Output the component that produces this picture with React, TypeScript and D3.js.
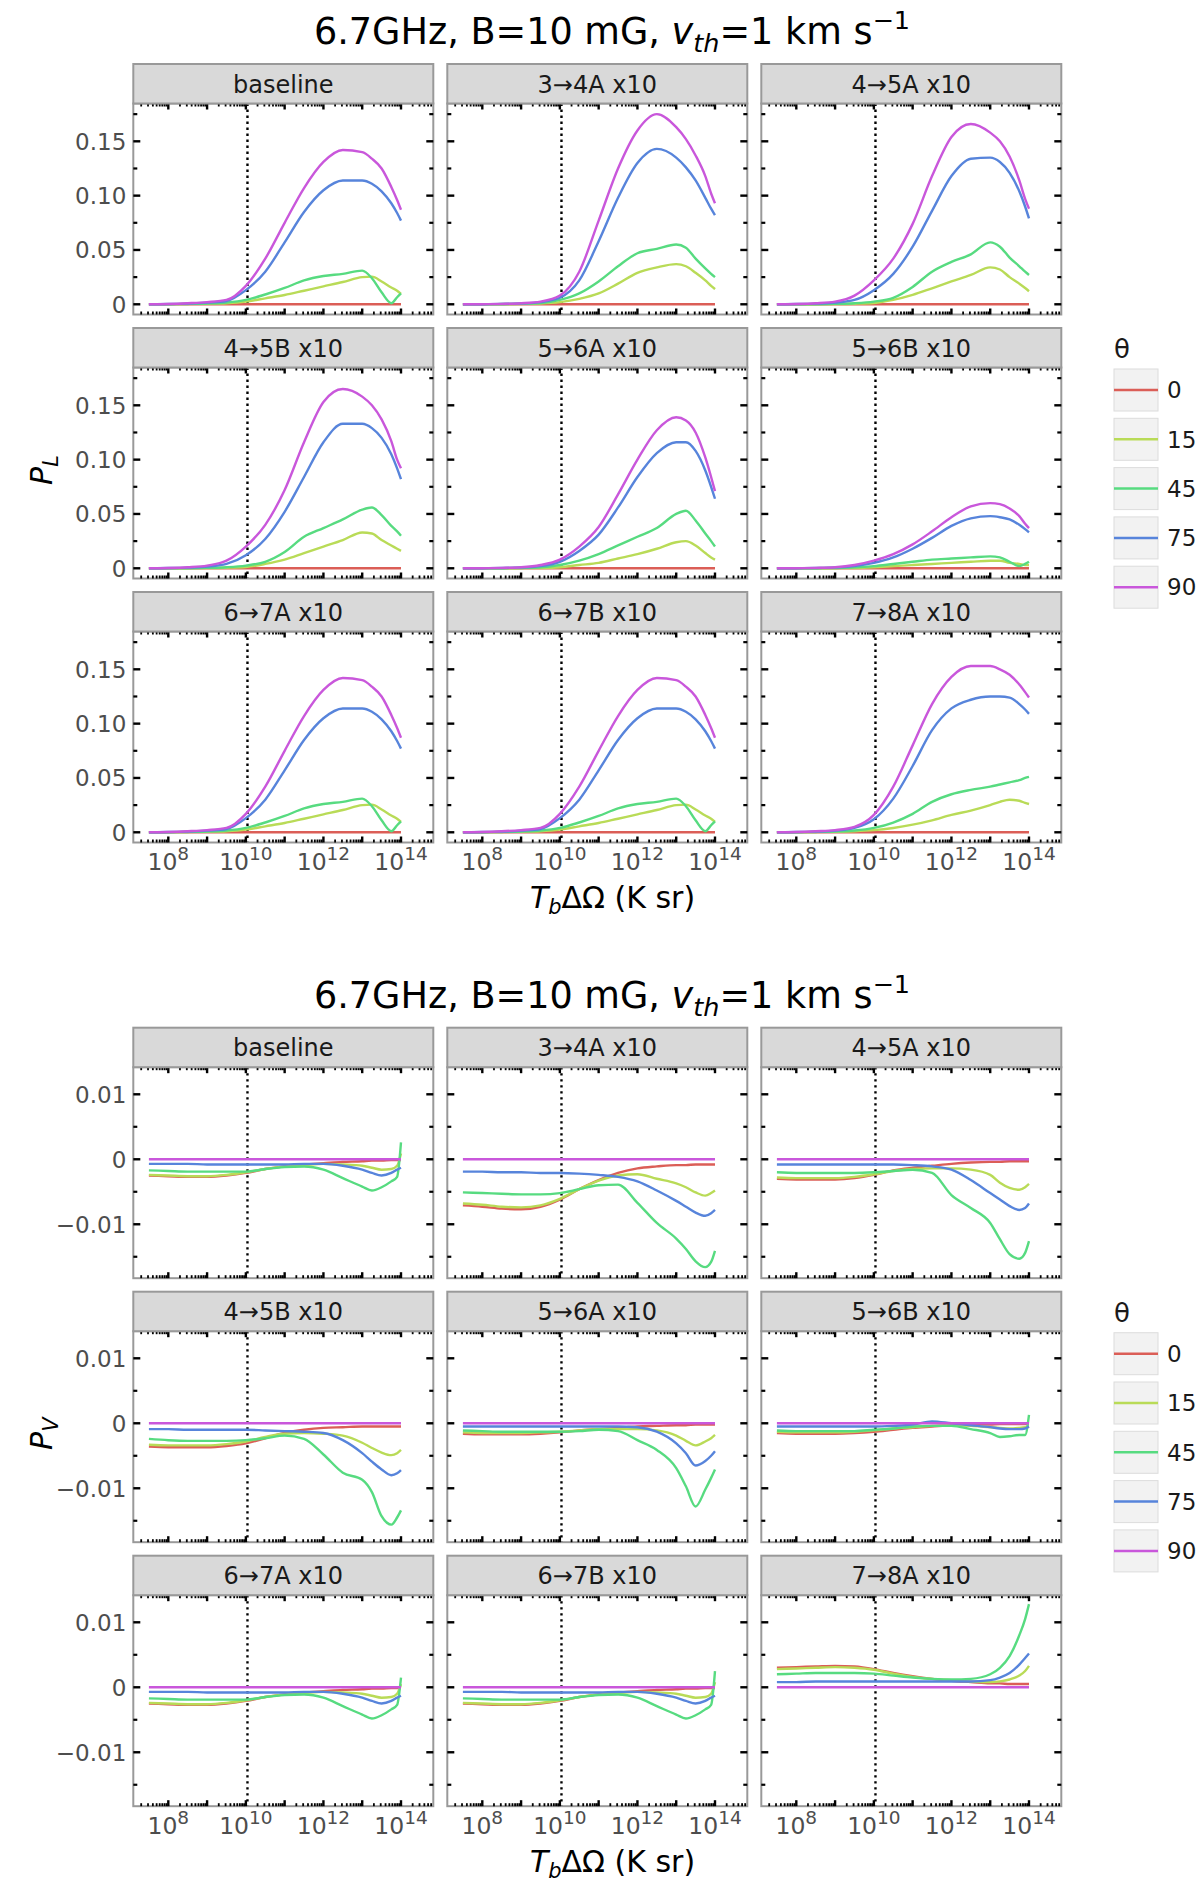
import React, { useRef, useEffect } from 'react';
import * as d3 from 'd3';

// log10(Tb dOmega) sample points shared by every curve
const logT = [7.5, 8, 8.5, 9, 9.5, 10, 10.5, 11, 11.5, 12, 12.5, 13, 13.25, 13.5, 13.75, 13.9, 14];

const thetaLabels = ['0', '15', '45', '75', '90'];
const thetaColors = ['#db5e57', '#b9db57', '#57db80', '#5784db', '#c957db'];
const panelLabels = [
  'baseline', '3→4A x10', '4→5A x10',
  '4→5B x10', '5→6A x10', '5→6B x10',
  '6→7A x10', '6→7B x10', '7→8A x10',
];
const xTickPowers = [8, 10, 12, 14];
const plTicks = [0, 0.05, 0.1, 0.15];
const plTickText = ['0', '0.05', '0.10', '0.15'];
const plMinorTicks = [0.025, 0.075, 0.125, 0.175];
const pvTicks = [-0.01, 0, 0.01];
const pvTickText = ['\u22120.01', '0', '0.01'];
const pvMinorTicks = [-0.015, -0.005, 0.005];

// ---- P_L, rows are theta = 0, 15, 45, 75, 90 ----
const plBaseline = [
  [0, 0, 0, 0, 0, 0, 0, 0, 0, 0, 0, 0, 0, 0, 0, 0, 0],
  [0, 0.0001, 0.0002, 0.0005, 0.001, 0.0025, 0.0055, 0.0085, 0.0125, 0.0165, 0.0205, 0.025, 0.0255, 0.021, 0.0155, 0.0125, 0.0095],
  [0, 0.0001, 0.0003, 0.0007, 0.0016, 0.004, 0.009, 0.015, 0.022, 0.026, 0.028, 0.031, 0.024, 0.011, 0.001, 0.0065, 0.010],
  [0, 0.0002, 0.0006, 0.0015, 0.003, 0.013, 0.030, 0.057, 0.085, 0.105, 0.114, 0.114, 0.111, 0.104, 0.093, 0.084, 0.077],
  [0, 0.0003, 0.001, 0.002, 0.004, 0.017, 0.042, 0.075, 0.107, 0.131, 0.142, 0.140, 0.134, 0.125, 0.108, 0.096, 0.087],
];
const pl34A = [
  [0, 0, 0, 0, 0, 0, 0, 0, 0, 0, 0, 0, 0, 0, 0, 0, 0],
  [0, 0, 0.0001, 0.0003, 0.0007, 0.002, 0.005, 0.010, 0.019, 0.029, 0.034, 0.037, 0.035, 0.029, 0.022, 0.017, 0.014],
  [0, 0, 0.0002, 0.0005, 0.0012, 0.004, 0.010, 0.021, 0.035, 0.047, 0.051, 0.055, 0.052, 0.042, 0.033, 0.028, 0.025],
  [0, 0.0001, 0.0003, 0.0008, 0.002, 0.006, 0.022, 0.058, 0.098, 0.130, 0.143, 0.135, 0.126, 0.114, 0.098, 0.088, 0.082],
  [0, 0.0001, 0.0004, 0.001, 0.0025, 0.008, 0.030, 0.077, 0.125, 0.160, 0.175, 0.163, 0.152, 0.137, 0.118, 0.102, 0.093],
];
const pl45A = [
  [0, 0, 0, 0, 0, 0, 0, 0, 0, 0, 0, 0, 0, 0, 0, 0, 0],
  [0, 0, 0.0001, 0.0002, 0.0005, 0.0012, 0.004, 0.0086, 0.0147, 0.021, 0.027, 0.034, 0.032, 0.025, 0.019, 0.015, 0.012],
  [0, 0, 0.0001, 0.0004, 0.001, 0.0025, 0.006, 0.016, 0.030, 0.039, 0.046, 0.057, 0.053, 0.043, 0.035, 0.030, 0.027],
  [0, 0.0002, 0.0006, 0.0015, 0.004, 0.013, 0.028, 0.053, 0.086, 0.118, 0.134, 0.135, 0.131, 0.121, 0.104, 0.090, 0.079],
  [0, 0.0003, 0.001, 0.0025, 0.008, 0.022, 0.042, 0.074, 0.118, 0.154, 0.166, 0.158, 0.150, 0.136, 0.114, 0.097, 0.088],
];
const pl45B = [
  [0, 0, 0, 0, 0, 0, 0, 0, 0, 0, 0, 0, 0, 0, 0, 0, 0],
  [0, 0, 0.0001, 0.0002, 0.0005, 0.0012, 0.004, 0.008, 0.014, 0.020, 0.026, 0.033, 0.032, 0.026, 0.021, 0.018, 0.016],
  [0, 0, 0.0001, 0.0004, 0.001, 0.0025, 0.006, 0.015, 0.029, 0.037, 0.045, 0.054, 0.056, 0.049, 0.039, 0.034, 0.030],
  [0, 0.0002, 0.0006, 0.0015, 0.004, 0.012, 0.027, 0.052, 0.084, 0.116, 0.133, 0.133, 0.129, 0.120, 0.105, 0.092, 0.082],
  [0, 0.0003, 0.001, 0.0025, 0.007, 0.020, 0.040, 0.072, 0.116, 0.153, 0.165, 0.158, 0.150, 0.137, 0.117, 0.100, 0.092],
];
const pl56A = [
  [0, 0, 0, 0, 0, 0, 0, 0, 0, 0, 0, 0, 0, 0, 0, 0, 0],
  [0, 0, 0, 0.0001, 0.0003, 0.001, 0.003, 0.005, 0.009, 0.013, 0.018, 0.024, 0.025, 0.021, 0.014, 0.010, 0.008],
  [0, 0, 0.0001, 0.0003, 0.0008, 0.003, 0.007, 0.013, 0.021, 0.029, 0.037, 0.050, 0.053, 0.044, 0.032, 0.025, 0.020],
  [0, 0.0001, 0.0003, 0.0008, 0.002, 0.006, 0.016, 0.031, 0.056, 0.084, 0.106, 0.116, 0.116, 0.108, 0.090, 0.075, 0.064],
  [0, 0.0001, 0.0004, 0.001, 0.003, 0.008, 0.020, 0.038, 0.068, 0.100, 0.127, 0.139, 0.136, 0.125, 0.102, 0.084, 0.071],
];
const pl56B = [
  [0, 0, 0, 0, 0, 0, 0, 0, 0, 0, 0, 0, 0, 0, 0, 0, 0],
  [0, 0, 0, 0.0001, 0.0003, 0.001, 0.002, 0.003, 0.004, 0.005, 0.006, 0.007, 0.007, 0.005, 0.004, 0.003, 0.003],
  [0, 0, 0.0001, 0.0003, 0.0008, 0.002, 0.004, 0.006, 0.008, 0.009, 0.010, 0.011, 0.010, 0.006, 0.002, 0.004, 0.006],
  [0, 0.0001, 0.0003, 0.0008, 0.002, 0.005, 0.010, 0.018, 0.028, 0.039, 0.046, 0.048, 0.047, 0.045, 0.040, 0.036, 0.033],
  [0, 0.0001, 0.0004, 0.001, 0.003, 0.007, 0.013, 0.022, 0.034, 0.047, 0.057, 0.060, 0.059, 0.055, 0.048, 0.041, 0.037],
];
const pl67A = [
  [0, 0, 0, 0, 0, 0, 0, 0, 0, 0, 0, 0, 0, 0, 0, 0, 0],
  [0, 0.0001, 0.0002, 0.0005, 0.001, 0.0025, 0.0055, 0.0085, 0.0125, 0.0165, 0.0205, 0.025, 0.0255, 0.021, 0.0155, 0.0125, 0.0095],
  [0, 0.0001, 0.0003, 0.0007, 0.0016, 0.004, 0.009, 0.015, 0.022, 0.026, 0.028, 0.031, 0.024, 0.011, 0.001, 0.0065, 0.010],
  [0, 0.0002, 0.0006, 0.0015, 0.003, 0.013, 0.030, 0.057, 0.085, 0.105, 0.114, 0.114, 0.111, 0.104, 0.093, 0.084, 0.077],
  [0, 0.0003, 0.001, 0.002, 0.004, 0.017, 0.042, 0.075, 0.107, 0.131, 0.142, 0.140, 0.134, 0.125, 0.108, 0.096, 0.087],
];
const pl67B = [
  [0, 0, 0, 0, 0, 0, 0, 0, 0, 0, 0, 0, 0, 0, 0, 0, 0],
  [0, 0.0001, 0.0002, 0.0005, 0.001, 0.0025, 0.0055, 0.0085, 0.0125, 0.0165, 0.0205, 0.025, 0.0255, 0.021, 0.0155, 0.0125, 0.0095],
  [0, 0.0001, 0.0003, 0.0007, 0.0016, 0.004, 0.009, 0.015, 0.022, 0.026, 0.028, 0.031, 0.024, 0.011, 0.001, 0.0065, 0.010],
  [0, 0.0002, 0.0006, 0.0015, 0.003, 0.013, 0.030, 0.057, 0.085, 0.105, 0.114, 0.114, 0.111, 0.104, 0.093, 0.084, 0.077],
  [0, 0.0003, 0.001, 0.002, 0.004, 0.017, 0.042, 0.075, 0.107, 0.131, 0.142, 0.140, 0.134, 0.125, 0.108, 0.096, 0.087],
];
const pl78A = [
  [0, 0, 0, 0, 0, 0, 0, 0, 0, 0, 0, 0, 0, 0, 0, 0, 0],
  [0, 0.0001, 0.0002, 0.0005, 0.001, 0.002, 0.004, 0.007, 0.011, 0.016, 0.020, 0.025, 0.028, 0.030, 0.029, 0.027, 0.026],
  [0, 0.0001, 0.0003, 0.0007, 0.0016, 0.004, 0.009, 0.017, 0.028, 0.035, 0.039, 0.042, 0.044, 0.046, 0.048, 0.050, 0.051],
  [0, 0.0002, 0.0006, 0.0015, 0.004, 0.012, 0.031, 0.061, 0.094, 0.114, 0.122, 0.125, 0.125, 0.124, 0.118, 0.113, 0.109],
  [0, 0.0003, 0.001, 0.002, 0.005, 0.016, 0.042, 0.080, 0.118, 0.143, 0.153, 0.153, 0.150, 0.145, 0.136, 0.129, 0.124],
];

// ---- P_V, rows are theta = 0, 15, 45, 75, 90 ----
const pvBaseline = [
  [-0.0025, -0.0026, -0.0027, -0.0027, -0.0025, -0.0021, -0.0015, -0.0011, -0.0008, -0.0006, -0.0004, -0.0003, -0.0002, -0.0002, -0.0001, -0.0001, -0.0001],
  [-0.0024, -0.0025, -0.0026, -0.0026, -0.0024, -0.0020, -0.0015, -0.0011, -0.0009, -0.0007, -0.0008, -0.0010, -0.0013, -0.0016, -0.0015, -0.0010, 0.0009],
  [-0.0017, -0.0018, -0.0019, -0.0019, -0.0019, -0.0019, -0.0015, -0.0012, -0.0011, -0.0016, -0.0029, -0.0042, -0.0048, -0.0043, -0.0034, -0.0027, 0.0026],
  [-0.0007, -0.0007, -0.0007, -0.0008, -0.0008, -0.0008, -0.0008, -0.0008, -0.0007, -0.0007, -0.0010, -0.0016, -0.0021, -0.0025, -0.0021, -0.0016, -0.0013],
  [0, 0, 0, 0, 0, 0, 0, 0, 0, 0, 0, 0, 0, 0, 0, 0, 0],
];
const pv34A = [
  [-0.0071, -0.0073, -0.0076, -0.0077, -0.0073, -0.0062, -0.0046, -0.0032, -0.0021, -0.0014, -0.0011, -0.0009, -0.0009, -0.0008, -0.0008, -0.0008, -0.0008],
  [-0.0068, -0.0070, -0.0073, -0.0074, -0.0071, -0.0061, -0.0046, -0.0033, -0.0025, -0.0023, -0.0030, -0.0037, -0.0043, -0.0051, -0.0056, -0.0052, -0.0048],
  [-0.0051, -0.0052, -0.0053, -0.0054, -0.0054, -0.0052, -0.0046, -0.0040, -0.0039, -0.0067, -0.0098, -0.0122, -0.0138, -0.0157, -0.0166, -0.0158, -0.0141],
  [-0.0019, -0.0019, -0.0020, -0.0020, -0.0021, -0.0021, -0.0022, -0.0024, -0.0027, -0.0034, -0.0048, -0.0064, -0.0073, -0.0082, -0.0087, -0.0083, -0.0078],
  [0, 0, 0, 0, 0, 0, 0, 0, 0, 0, 0, 0, 0, 0, 0, 0, 0],
];
const pv45A = [
  [-0.0030, -0.0031, -0.0031, -0.0031, -0.0029, -0.0024, -0.0017, -0.0013, -0.0010, -0.0007, -0.0005, -0.0004, -0.0004, -0.0003, -0.0003, -0.0003, -0.0003],
  [-0.0028, -0.0029, -0.0029, -0.0029, -0.0027, -0.0023, -0.0018, -0.0015, -0.0014, -0.0014, -0.0016, -0.0024, -0.0036, -0.0044, -0.0047, -0.0043, -0.0038],
  [-0.0020, -0.0021, -0.0021, -0.0021, -0.0021, -0.0020, -0.0018, -0.0016, -0.0021, -0.0055, -0.0075, -0.0098, -0.0123, -0.0146, -0.0153, -0.0144, -0.0126],
  [-0.0008, -0.0008, -0.0008, -0.0008, -0.0008, -0.0008, -0.0008, -0.0009, -0.0011, -0.0016, -0.0032, -0.0052, -0.0062, -0.0072, -0.0078, -0.0075, -0.0068],
  [0, 0, 0, 0, 0, 0, 0, 0, 0, 0, 0, 0, 0, 0, 0, 0, 0],
];
const pv45B = [
  [-0.0036, -0.0037, -0.0037, -0.0037, -0.0035, -0.0031, -0.0023, -0.0015, -0.0010, -0.0007, -0.0006, -0.0005, -0.0005, -0.0005, -0.0005, -0.0005, -0.0005],
  [-0.0033, -0.0034, -0.0034, -0.0034, -0.0032, -0.0028, -0.0021, -0.0016, -0.0015, -0.0016, -0.0019, -0.0030, -0.0038, -0.0045, -0.0049, -0.0046, -0.0041],
  [-0.0024, -0.0026, -0.0027, -0.0027, -0.0027, -0.0026, -0.0023, -0.0019, -0.0024, -0.0048, -0.0076, -0.0087, -0.0106, -0.0143, -0.0156, -0.0145, -0.0134],
  [-0.0009, -0.0009, -0.0010, -0.0010, -0.0010, -0.0010, -0.0011, -0.0012, -0.0013, -0.0015, -0.0026, -0.0046, -0.0059, -0.0071, -0.0080, -0.0077, -0.0072],
  [0, 0, 0, 0, 0, 0, 0, 0, 0, 0, 0, 0, 0, 0, 0, 0, 0],
];
const pv56A = [
  [-0.0016, -0.0017, -0.0017, -0.0017, -0.0016, -0.0014, -0.0011, -0.0009, -0.0007, -0.0005, -0.0004, -0.0003, -0.0003, -0.0002, -0.0002, -0.0002, -0.0002],
  [-0.0014, -0.0015, -0.0015, -0.0015, -0.0014, -0.0013, -0.0011, -0.0009, -0.0009, -0.0009, -0.0011, -0.0019, -0.0027, -0.0034, -0.0028, -0.0023, -0.0018],
  [-0.0011, -0.0012, -0.0013, -0.0013, -0.0013, -0.0013, -0.0012, -0.0010, -0.0012, -0.0026, -0.0041, -0.0069, -0.0097, -0.0128, -0.0102, -0.0084, -0.0071],
  [-0.0005, -0.0005, -0.0005, -0.0005, -0.0005, -0.0005, -0.0005, -0.0005, -0.0005, -0.0006, -0.0013, -0.0031, -0.0046, -0.0065, -0.0058, -0.0050, -0.0043],
  [0, 0, 0, 0, 0, 0, 0, 0, 0, 0, 0, 0, 0, 0, 0, 0, 0],
];
const pv56B = [
  [-0.0015, -0.0016, -0.0016, -0.0016, -0.0015, -0.0013, -0.0010, -0.0007, -0.0005, -0.0003, -0.0002, -0.0002, -0.0001, -0.0001, -0.0001, -0.0001, -0.0001],
  [-0.0013, -0.0014, -0.0014, -0.0014, -0.0013, -0.0011, -0.0008, -0.0006, -0.0004, -0.0003, -0.0004, -0.0006, -0.0007, -0.0008, -0.0007, -0.0006, -0.0005],
  [-0.0011, -0.0012, -0.0012, -0.0012, -0.0012, -0.0010, -0.0008, -0.0005, -0.0004, -0.0004, -0.0009, -0.0015, -0.0021, -0.0020, -0.0018, -0.0018, 0.0013],
  [-0.0005, -0.0005, -0.0005, -0.0005, -0.0005, -0.0005, -0.0004, -0.0002, 0.0003, 0.0000, -0.0003, -0.0006, -0.0008, -0.0009, -0.0009, -0.0008, -0.0005],
  [0, 0, 0, 0, 0, 0, 0, 0, 0, 0, 0, 0, 0, 0, 0, 0, 0],
];
const pv67A = [
  [-0.0025, -0.0026, -0.0027, -0.0027, -0.0025, -0.0021, -0.0015, -0.0011, -0.0008, -0.0006, -0.0004, -0.0003, -0.0002, -0.0002, -0.0001, -0.0001, -0.0001],
  [-0.0024, -0.0025, -0.0026, -0.0026, -0.0024, -0.0020, -0.0015, -0.0011, -0.0009, -0.0007, -0.0008, -0.0010, -0.0013, -0.0016, -0.0015, -0.0010, 0.0005],
  [-0.0017, -0.0018, -0.0019, -0.0019, -0.0019, -0.0019, -0.0015, -0.0012, -0.0011, -0.0016, -0.0029, -0.0042, -0.0048, -0.0043, -0.0034, -0.0027, 0.0015],
  [-0.0007, -0.0007, -0.0007, -0.0008, -0.0008, -0.0008, -0.0008, -0.0008, -0.0007, -0.0007, -0.0010, -0.0016, -0.0021, -0.0025, -0.0021, -0.0016, -0.0013],
  [0, 0, 0, 0, 0, 0, 0, 0, 0, 0, 0, 0, 0, 0, 0, 0, 0],
];
const pv67B = [
  [-0.0025, -0.0026, -0.0027, -0.0027, -0.0025, -0.0021, -0.0015, -0.0011, -0.0008, -0.0006, -0.0004, -0.0003, -0.0002, -0.0002, -0.0001, -0.0001, -0.0001],
  [-0.0024, -0.0025, -0.0026, -0.0026, -0.0024, -0.0020, -0.0015, -0.0011, -0.0009, -0.0007, -0.0008, -0.0010, -0.0013, -0.0016, -0.0015, -0.0010, 0.0008],
  [-0.0017, -0.0018, -0.0019, -0.0019, -0.0019, -0.0019, -0.0015, -0.0012, -0.0011, -0.0016, -0.0029, -0.0042, -0.0048, -0.0043, -0.0034, -0.0027, 0.0025],
  [-0.0007, -0.0007, -0.0007, -0.0008, -0.0008, -0.0008, -0.0008, -0.0008, -0.0007, -0.0007, -0.0010, -0.0016, -0.0021, -0.0025, -0.0021, -0.0016, -0.0013],
  [0, 0, 0, 0, 0, 0, 0, 0, 0, 0, 0, 0, 0, 0, 0, 0, 0],
];
const pv78A = [
  [0.0030, 0.0031, 0.0032, 0.0033, 0.0032, 0.0028, 0.0022, 0.0017, 0.0013, 0.0010, 0.0008, 0.0006, 0.0006, 0.0005, 0.0005, 0.0005, 0.0005],
  [0.0028, 0.0029, 0.0030, 0.0031, 0.0030, 0.0027, 0.0021, 0.0016, 0.0013, 0.0011, 0.0009, 0.0008, 0.0009, 0.0012, 0.0018, 0.0025, 0.0033],
  [0.0020, 0.0021, 0.0022, 0.0022, 0.0022, 0.0021, 0.0018, 0.0015, 0.0013, 0.0012, 0.0013, 0.0020, 0.0030, 0.0048, 0.0080, 0.0105, 0.0128],
  [0.0008, 0.0008, 0.0009, 0.0009, 0.0009, 0.0009, 0.0009, 0.0009, 0.0009, 0.0009, 0.0009, 0.0011, 0.0015, 0.0022, 0.0035, 0.0045, 0.0052],
  [0, 0, 0, 0, 0, 0, 0, 0, 0, 0, 0, 0, 0, 0, 0, 0, 0],
];

const plPanels = [plBaseline, pl34A, pl45A, pl45B, pl56A, pl56B, pl67A, pl67B, pl78A];
const pvPanels = [pvBaseline, pv34A, pv45A, pv45B, pv56A, pv56B, pv67A, pv67B, pv78A];

const FONT = '"DejaVu Sans", sans-serif';
const W = 1200;
const H = 1885;
const colLeft = [133.3, 447.3, 761.3];
const panelW = 300;
const stripH = 39.5;
const panelH = 211;
const rowPitch = 264;

const charts = [
  { top: 0, panels: plPanels, yDomain: [-0.0094, 0.1848], ticks: plTicks, tickText: plTickText, minor: plMinorTicks, sub: 'L' },
  { top: 963.7, panels: pvPanels, yDomain: [-0.0183, 0.01417], ticks: pvTicks, tickText: pvTickText, minor: pvMinorTicks, sub: 'V' },
];

const App: React.FC = () => {
  const svgRef = useRef<SVGSVGElement | null>(null);

  useEffect(() => {
    const svg = d3.select(svgRef.current);
    svg.selectAll('*').remove();
    svg.attr('width', W).attr('height', H).style('background', '#fff').style('font-family', FONT);

    const x = d3.scaleLog().domain([10 ** 7.0975, 10 ** 14.833]).range([0, panelW]);
    const [xMin, xMax] = x.domain();
    const xMajor = d3.range(7, 16).map(e => 10 ** e).filter(v => v >= xMin && v <= xMax);
    const xMinor: number[] = [];
    d3.range(7, 15).forEach(e => {
      d3.range(2, 10).forEach(k => {
        const v = k * 10 ** e;
        if (v >= xMin && v <= xMax) xMinor.push(v);
      });
    });

    charts.forEach(chart => {
      const top = chart.top;
      const y = d3.scaleLinear().domain(chart.yDomain).range([panelH, 0]);
      const line = d3.line<number>()
        .x((d, i) => x(10 ** logT[i]))
        .y(d => y(d))
        .curve(d3.curveMonotoneX);

      // title
      const title = svg.append('text')
        .attr('x', 612).attr('y', top + 44)
        .attr('text-anchor', 'middle').attr('font-size', 36.6).attr('fill', '#000')
        .style('white-space', 'pre');
      title.append('tspan').text('6.7GHz, B=10 mG, ');
      title.append('tspan').attr('font-style', 'italic').text('v');
      title.append('tspan').attr('font-style', 'italic').attr('font-size', 25.5).attr('dy', 8).text('th');
      title.append('tspan').attr('dy', -8).text('=1 km s');
      title.append('tspan').attr('font-size', 25.5).attr('dy', -15).text('\u22121');

      chart.panels.forEach((series, pi) => {
        const r = Math.floor(pi / 3);
        const c = pi % 3;
        const left = colLeft[c];
        const rowTop = top + 64 + r * rowPitch;
        const g = svg.append('g').attr('transform', `translate(${left},${rowTop + stripH})`);

        // strip
        svg.append('rect')
          .attr('x', left).attr('y', rowTop).attr('width', panelW).attr('height', stripH)
          .attr('fill', '#d9d9d9').attr('stroke', '#999').attr('stroke-width', 2);
        svg.append('text')
          .attr('x', left + panelW / 2).attr('y', rowTop + 28.5)
          .attr('text-anchor', 'middle').attr('font-size', 24).attr('fill', '#1a1a1a')
          .text(panelLabels[pi]);

        g.append('rect').attr('width', panelW).attr('height', panelH).attr('fill', '#fff');

        // dotted reference line
        g.append('line')
          .attr('x1', x(1.1e10)).attr('x2', x(1.1e10)).attr('y1', 0).attr('y2', panelH)
          .attr('stroke', '#000').attr('stroke-width', 2.4).attr('stroke-dasharray', '2.4,3.6');

        series.forEach((vals, si) => {
          g.append('path')
            .datum(vals)
            .attr('d', line)
            .attr('fill', 'none')
            .attr('stroke', thetaColors[si])
            .attr('stroke-width', 2.4)
            .attr('stroke-linejoin', 'round');
        });

        g.append('rect').attr('width', panelW).attr('height', panelH)
          .attr('fill', 'none').attr('stroke', '#999').attr('stroke-width', 2);

        // ticks, all inward on four sides
        const tk = g.append('g').attr('stroke', '#000');
        chart.ticks.forEach(v => {
          tk.append('line').attr('x1', 0).attr('x2', 7).attr('y1', y(v)).attr('y2', y(v)).attr('stroke-width', 2.4);
          tk.append('line').attr('x1', panelW - 7).attr('x2', panelW).attr('y1', y(v)).attr('y2', y(v)).attr('stroke-width', 2.4);
        });
        chart.minor.forEach(v => {
          tk.append('line').attr('x1', 0).attr('x2', 4).attr('y1', y(v)).attr('y2', y(v)).attr('stroke-width', 2.2);
          tk.append('line').attr('x1', panelW - 4).attr('x2', panelW).attr('y1', y(v)).attr('y2', y(v)).attr('stroke-width', 2.2);
        });
        xMajor.forEach(v => {
          tk.append('line').attr('x1', x(v)).attr('x2', x(v)).attr('y1', 0).attr('y2', 6).attr('stroke-width', 2.4);
          tk.append('line').attr('x1', x(v)).attr('x2', x(v)).attr('y1', panelH - 6).attr('y2', panelH).attr('stroke-width', 2.4);
        });
        xMinor.forEach(v => {
          tk.append('line').attr('x1', x(v)).attr('x2', x(v)).attr('y1', 0).attr('y2', 3).attr('stroke-width', 1.8);
          tk.append('line').attr('x1', x(v)).attr('x2', x(v)).attr('y1', panelH - 3).attr('y2', panelH).attr('stroke-width', 1.8);
        });

        if (c === 0) {
          chart.ticks.forEach((v, i) => {
            g.append('text')
              .attr('x', -7).attr('y', y(v)).attr('dy', '0.36em')
              .attr('text-anchor', 'end').attr('font-size', 23).attr('fill', '#4d4d4d')
              .text(chart.tickText[i]);
          });
        }
        if (r === 2) {
          xTickPowers.forEach(p => {
            const t = g.append('text')
              .attr('x', x(10 ** p)).attr('y', panelH + 27.5)
              .attr('text-anchor', 'middle').attr('font-size', 23.5).attr('fill', '#4d4d4d');
            t.append('tspan').text('10');
            t.append('tspan').attr('font-size', 18.5).attr('dy', -10).text(String(p));
          });
        }
      });

      // x axis title
      const xt = svg.append('text')
        .attr('x', 612.5).attr('y', top + 908)
        .attr('text-anchor', 'middle').attr('font-size', 30).attr('fill', '#000')
        .style('white-space', 'pre');
      xt.append('tspan').attr('font-style', 'italic').text('T');
      xt.append('tspan').attr('font-style', 'italic').attr('font-size', 21).attr('dy', 6).text('b');
      xt.append('tspan').attr('dy', -6).text('\u0394\u03a9 (K sr)');

      // y axis title
      const yt = svg.append('text')
        .attr('transform', `translate(52,${top + 470}) rotate(-90)`)
        .attr('text-anchor', 'middle').attr('font-size', 30).attr('fill', '#000');
      yt.append('tspan').attr('font-style', 'italic').text('P');
      yt.append('tspan').attr('font-style', 'italic').attr('font-size', 21).attr('dy', 6).text(chart.sub);

      // legend
      svg.append('text')
        .attr('x', 1114).attr('y', top + 358)
        .attr('font-size', 26).attr('fill', '#1a1a1a').text('\u03b8');
      thetaLabels.forEach((lab, i) => {
        const ky = top + 369 + i * 49.3;
        svg.append('rect')
          .attr('x', 1114).attr('y', ky).attr('width', 44).attr('height', 42)
          .attr('fill', '#f2f2f2').attr('stroke', '#dcdcdc').attr('stroke-width', 1);
        svg.append('line')
          .attr('x1', 1114).attr('x2', 1158).attr('y1', ky + 21).attr('y2', ky + 21)
          .attr('stroke', thetaColors[i]).attr('stroke-width', 2.5);
        svg.append('text')
          .attr('x', 1167).attr('y', ky + 21).attr('dy', '0.36em')
          .attr('font-size', 23).attr('fill', '#1a1a1a').text(lab);
      });
    });
  }, []);

  return (
    <div style={{ position: 'absolute', left: 0, top: 0 }}>
      <svg ref={svgRef} style={{ display: 'block' }}></svg>
    </div>
  );
};

export default App;
